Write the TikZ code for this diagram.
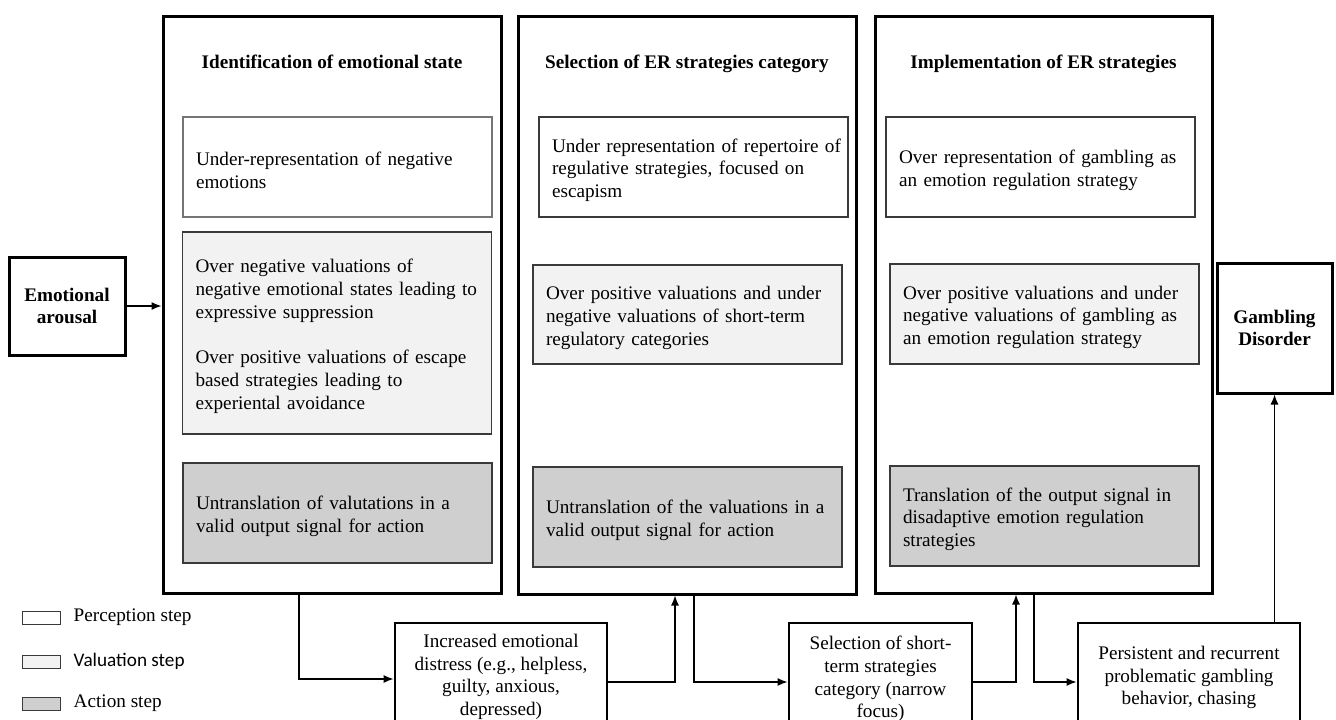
\documentclass[tikz,border=0pt]{standalone}
\usepackage{fontspec}
\setmainfont{Liberation Serif}
\newfontfamily\carlitofont{Carlito}
\usetikzlibrary{arrows.meta}
\definecolor{valfill}{HTML}{F2F2F2}
\definecolor{actfill}{HTML}{CFCFCF}
\definecolor{ibord}{HTML}{3A3A3A}
\newcommand\oneline[1]{\mbox{#1}}
\tikzset{
  txt/.style={font=\fontsize{19.2pt}{22.7pt}\selectfont},
  colbox/.style={draw=black, line width=3pt, fill=white, inner sep=0pt},
  coltitle/.style={txt, font=\fontsize{19.2pt}{22.7pt}\selectfont\bfseries, inner sep=0pt, anchor=base},
  ibox/.style={txt, draw=ibord, line width=1.2pt, inner xsep=13pt, inner ysep=0pt,
               text width=283pt, align=left, execute at begin node={\rule{0pt}{20pt}}},
  percbox/.style={ibox, fill=white},
  valbox/.style={ibox, fill=valfill},
  actbox/.style={ibox, fill=actfill},
  outbox/.style={txt, draw=black, line width=2.8pt, fill=white, align=center, inner sep=0pt},
  endbox/.style={outbox, font=\fontsize{19.2pt}{22.7pt}\selectfont\bfseries, line width=3pt},
  arr/.style={draw=black, line width=1.3pt, -{Latex[length=10pt,width=8pt]}},
  legbox/.style={draw=ibord, line width=1pt, minimum width=38pt, minimum height=13pt, inner sep=0pt},
  legtxt/.style={txt, anchor=west, inner sep=0pt},
}
\begin{document}
\begin{tikzpicture}[x=1pt,y=-1pt]
\useasboundingbox (0,0) rectangle (1336,720);
\clip (0,0) rectangle (1336,720);

% columns
\node[colbox, minimum width=338pt, minimum height=577pt] (col1) at (332,304.5) {};
\node[colbox, minimum width=338pt, minimum height=578pt] (col2) at (687,305) {};
\node[colbox, minimum width=337pt, minimum height=577pt] (col3) at (1043.5,304.5) {};

\node[coltitle] (t1) at (332,68.6) {Identification of emotional state};
\node[coltitle] (t2) at (687,68.6) {Selection of ER strategies category};
\node[coltitle] (t3) at (1043.5,68.6) {Implementation of ER strategies};

% column 1
\node[percbox, draw=ibord!70, minimum height=100pt] (c1p) at (337.5,167)
  {\oneline{Under-representation of negative}\\\oneline{emotions}};
\node[valbox, minimum height=202pt] (c1v) at (337,333)
  {\oneline{Over negative valuations of}\\\oneline{negative emotional states leading to}\\\oneline{expressive suppression}\\[22.7pt]\oneline{Over positive valuations of escape}\\\oneline{based strategies leading to}\\\oneline{experiental avoidance}};
\node[actbox, minimum height=100pt] (c1a) at (337.5,513)
  {\oneline{Untranslation of valutations in a}\\\oneline{valid output signal for action}};

% column 2
\node[percbox, minimum height=100pt] (c2p) at (693.5,167)
  {\oneline{Under representation of repertoire of}\\\oneline{regulative strategies, focused on}\\\oneline{escapism}};
\node[valbox, minimum height=99pt] (c2v) at (687.5,314.5)
  {\oneline{Over positive valuations and under}\\\oneline{negative valuations of short-term}\\\oneline{regulatory categories}};
\node[actbox, minimum height=100pt] (c2a) at (687.5,517)
  {\oneline{Untranslation of the valuations in a}\\\oneline{valid output signal for action}};

% column 3
\node[percbox, minimum height=100pt] (c3p) at (1040.5,167)
  {\oneline{Over representation of gambling as}\\\oneline{an emotion regulation strategy}};
\node[valbox, minimum height=100pt] (c3v) at (1044.5,314)
  {\oneline{Over positive valuations and under}\\\oneline{negative valuations of gambling as}\\\oneline{an emotion regulation strategy}};
\node[actbox, minimum height=100pt] (c3a) at (1044.5,516)
  {\oneline{Translation of the output signal in}\\\oneline{disadaptive emotion regulation}\\\oneline{strategies}};

% side boxes
\node[endbox, minimum width=116pt, minimum height=98pt] (arousal) at (67,306) {Emotional\\arousal};
\node[endbox, minimum width=115pt, minimum height=130pt] (gd) at (1274.5,328) {Gambling\\Disorder};

% bottom boxes
\node[outbox, minimum width=212pt, minimum height=108pt] (b1) at (501,677)
  {Increased emotional\\distress (e.g., helpless,\\guilty, anxious,\\depressed)};
\node[outbox, minimum width=183pt, minimum height=112pt] (b2) at (880.5,679)
  {Selection of short-\\term strategies\\category (narrow\\focus)};
\node[outbox, minimum width=222pt, minimum height=109pt] (b3) at (1189,677.5)
  {Persistent and recurrent\\problematic gambling\\behavior, chasing};

% connectors
\draw[arr] (arousal.east) -- (arousal.east -| col1.west);
\draw[arr] ([xshift=-33pt]col1.south) |- ([yshift=-2pt]b1.west);
\draw[arr] ([yshift=-5pt]b1.east) -| ([xshift=-12pt]col2.south);
\draw[arr] ([xshift=7pt]col2.south) |- ([yshift=-3pt]b2.west);
\draw[arr] ([yshift=-3pt]b2.east) -| ([xshift=-27.5pt]col3.south);
\draw[arr] ([xshift=-9.5pt]col3.south) |- ([yshift=-4.5pt]b3.west);
\draw[arr] (b3.north -| gd.south) -- (gd.south);

% legend
\node[legbox, fill=white] (lp) at (41,617.5) {};
\node[legbox, fill=valfill] (lv) at (41,661.5) {};
\node[legbox, fill=actfill] (la) at (41,703.5) {};
\node[legtxt] (lpt) at ([xshift=13pt]lp.east) {Perception step};
\node[legtxt, font=\fontsize{19.2pt}{22.7pt}\selectfont\carlitofont] (lvt) at ([xshift=13pt]lv.east) {Valuation step};
\node[legtxt] (lat) at ([xshift=13pt]la.east) {Action step};
\end{tikzpicture}
\end{document}
